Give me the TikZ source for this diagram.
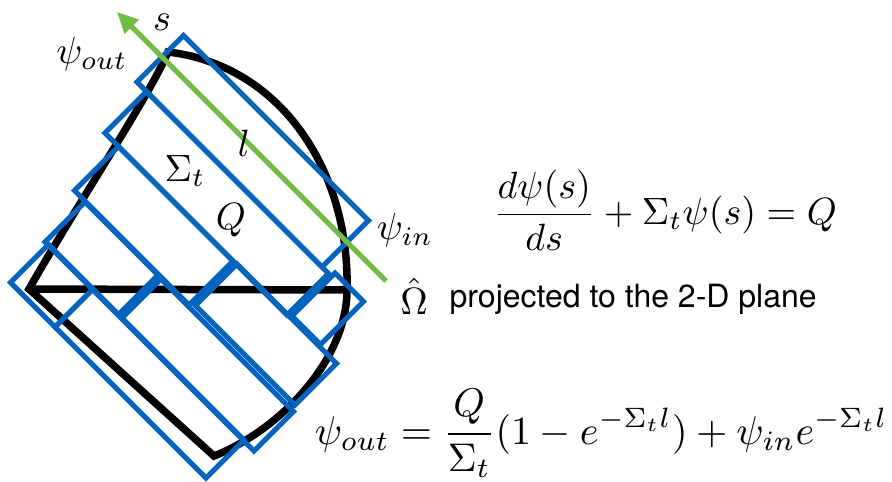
\documentclass[tikz,border=0pt]{standalone}
\usepackage{fontspec}
\newfontfamily\helv{TeX Gyre Heros}
\usetikzlibrary{arrows.meta}
\definecolor{bblue}{RGB}{6,99,190}
\definecolor{ggreen}{RGB}{112,190,68}
\newcommand{\blockrect}[4]{\draw[blu] (#1,#3) -- (#2,#3) -- (#2,#4) -- (#1,#4) -- cycle;}
\begin{document}
\begin{tikzpicture}[x=1pt,y=-1pt,
  blk/.style={line width=7.5pt, draw=black},
  blu/.style={line width=5pt, draw=bblue},
  grn/.style={line width=5pt, draw=ggreen, fill=ggreen},
  lab/.style={inner sep=0pt, scale=3.8},
  sanslab/.style={inner sep=0pt, scale=3.2, font=\helv},
]
\useasboundingbox (0,0) rectangle (892,482);
% region outline
\coordinate (T) at (168,52);
\coordinate (L) at (29,289);
\coordinate (B) at (214,456);
\coordinate (R) at (347,290);
\draw[blk] (T) .. controls (150,95) and (80,200) .. (L) -- (B)
  .. controls (280,430) and (347,360) .. (R)
  .. controls (350,170) and (280,65) .. (T) -- cycle;
\draw[blk] (L) -- (R);
% characteristic strips (q = x - y, p = x + y)
\begin{scope}[x={(0.5pt,0.5pt)}, y={(0.5pt,-0.5pt)}]
\blockrect{55}{148}{219}{589}
\blockrect{-28}{55}{238}{602}
\blockrect{-24}{62}{608}{665}
\blockrect{-116}{-28}{265}{494}
\blockrect{-110}{-27}{501}{700}
\blockrect{-197}{-117}{287}{433}
\blockrect{-197}{-118}{440}{705}
\blockrect{-272}{-196}{293}{382}
\blockrect{-272}{-196}{382}{684}
\end{scope}
% direction
\coordinate (gs) at (386,281);
\coordinate (ge) at (117,12);
\draw[grn, -{Triangle[length=21pt,width=19pt]}] (gs) -- (ge);
% labels
\node[lab] (s) at (162,22) {$s$};
\node[lab] (psiout) at (92,54) {$\psi_{out}$};
\node[lab] (len) at (244,143) {$l$};
\node[lab] (sig) at (185,171) {$\Sigma_t$};
\node[lab] (q) at (231,220) {$Q$};
\node[lab] (psiin) at (405,230) {$\psi_{in}$};
\node[lab] (eqa) at (665,210) {$\displaystyle\frac{d\psi(s)}{ds}+\Sigma_t\psi(s)=Q$};
\node[lab] (omega) at (414,296) {$\hat{\Omega}$};
\node[sanslab, anchor=base west] (proj) at (449,307) {projected to the 2-D plane};
\node[lab, scale=4.0/3.8, anchor=base west] (eqb) at (314,444) {$\displaystyle\psi_{out}=\frac{Q}{\Sigma_t}(1-e^{-\Sigma_t l})+\psi_{in}e^{-\Sigma_t l}$};
\end{tikzpicture}
\end{document}
